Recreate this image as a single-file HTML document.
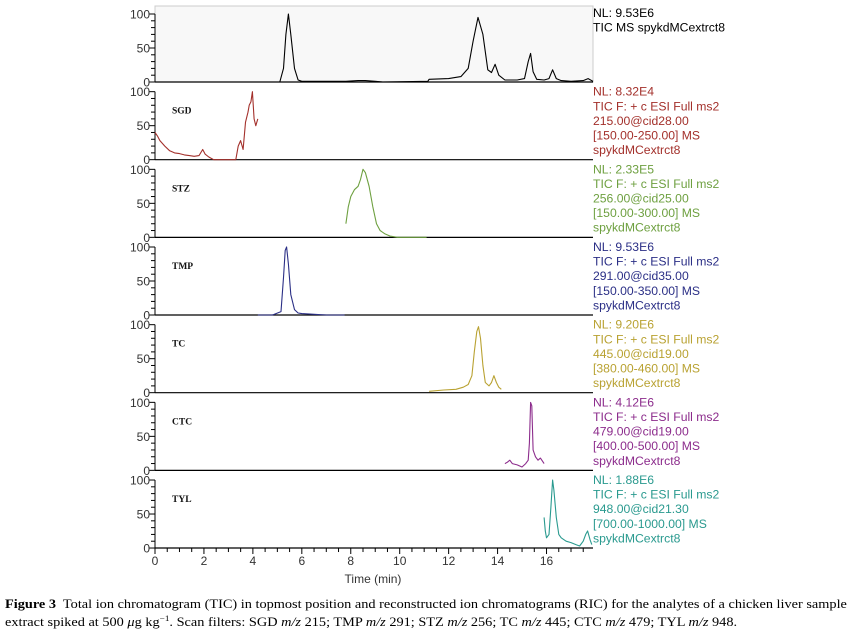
<!DOCTYPE html>
<html><head><meta charset="utf-8"><style>
body{margin:0;background:#fff;width:852px;height:630px;overflow:hidden}
svg text{font-family:"Liberation Sans",Arial,sans-serif}
.cap{position:absolute;left:5px;top:597px;font-family:"Liberation Serif",serif;font-size:12.5px;line-height:14.5px;color:#000;white-space:nowrap;transform:scaleX(1.145);transform-origin:0 0}
</style></head><body>
<svg id="chart" width="852" height="590" style="position:absolute;left:0;top:0"></svg>
<div class="cap"><b>Figure 3</b>&nbsp; Total ion chromatogram (TIC) in topmost position and reconstructed ion chromatograms (RIC) for the analytes of a chicken liver sample<br>extract spiked at 500 <i>μ</i>g kg<sup style="font-size:8px">−1</sup>. Scan filters: SGD <i>m/z</i> 215; TMP <i>m/z</i> 291; STZ <i>m/z</i> 256; TC <i>m/z</i> 445; CTC <i>m/z</i> 479; TYL <i>m/z</i> 948.</div>
<script>
const panelNames=["TIC","SGD","STZ","TMP","TC","CTC","TYL"];
const panelColors=["#000","#a3302b","#6ea040","#2b2f86","#b9a232","#8c2c8c","#2a9a8f"];
const ticT=[5.1,5.25,5.35,5.45,5.55,5.7,5.85,6.0,7.8,8.3,8.6,9.0,9.3,11.15,11.2,12.0,12.5,12.8,13.0,13.2,13.4,13.6,13.75,13.9,14.05,14.3,14.8,15.1,15.25,15.35,15.45,15.6,15.9,16.1,16.25,16.4,16.6,17.0,17.5,17.7,17.9];
const ticY=[0,20,70,100,70,20,3,1,1,2,2,1,0,1,4,5,8,20,60,95,70,18,14,26,10,3,3,5,30,42,15,4,3,5,18,5,2,1,2,5,1];
const sgdT=[0,0.1,0.2,0.4,0.6,0.8,1.0,1.2,1.4,1.6,1.8,1.95,2.05,2.2,2.4,2.6,3.0,3.3,3.4,3.5,3.6,3.65,3.7,3.8,3.85,3.92,3.98,4.05,4.12,4.2];
const sgdY=[40,35,28,20,13,10,9,7,6,5,6,15,8,4,0,0,0,0,20,28,15,35,55,70,80,85,100,60,50,60];
const stzT=[7.8,7.9,8.0,8.15,8.3,8.4,8.5,8.6,8.75,8.9,9.05,9.2,9.4,9.6,9.9,10.5,11.1];
const stzY=[20,45,60,70,75,85,100,95,75,45,20,10,5,2,0,0,0];
const tmpT=[4.2,4.8,5.15,5.25,5.32,5.38,5.45,5.55,5.7,5.85,6.0,6.5,7.0,7.75];
const tmpY=[0,0,5,55,95,100,75,30,8,3,2,1,0,0];
const tcT=[11.2,11.8,12.3,12.6,12.8,12.95,13.05,13.15,13.22,13.3,13.4,13.5,13.65,13.75,13.85,13.95,14.05,14.15];
const tcY=[2,4,5,8,12,25,60,90,97,80,40,15,10,15,25,15,8,5];
const ctcT=[14.3,14.4,14.5,14.6,14.8,15.0,15.15,15.25,15.3,15.35,15.4,15.45,15.55,15.65,15.75,15.9];
const ctcY=[10,12,15,10,8,5,10,15,40,100,95,30,20,15,18,10];
const tylT=[15.9,15.95,16.0,16.1,16.18,16.25,16.3,16.4,16.5,16.6,16.8,17.0,17.2,17.35,17.5,17.6,17.68,17.78,17.85];
const tylY=[45,25,15,20,60,100,85,45,20,15,10,8,5,3,10,20,25,12,5];
const seriesT=[ticT,sgdT,stzT,tmpT,tcT,ctcT,tylT];
const seriesY=[ticY,sgdY,stzY,tmpY,tcY,ctcY,tylY];
const xTicks=[0,2,4,6,8,10,12,14,16];
const yTicks=[0,50,100];
const infoLines=[
 ["NL: 9.53E6","TIC  MS spykdMCextrct8"],
 ["NL: 8.32E4","TIC F: + c ESI Full ms2","215.00@cid28.00","[150.00-250.00]  MS","spykdMCextrct8"],
 ["NL: 2.33E5","TIC F: + c ESI Full ms2","256.00@cid25.00","[150.00-300.00]  MS","spykdMCextrct8"],
 ["NL: 9.53E6","TIC F: + c ESI Full ms2","291.00@cid35.00","[150.00-350.00]  MS","spykdMCextrct8"],
 ["NL: 9.20E6","TIC F: + c ESI Full ms2","445.00@cid19.00","[380.00-460.00]  MS","spykdMCextrct8"],
 ["NL: 4.12E6","TIC F: + c ESI Full ms2","479.00@cid19.00","[400.00-500.00]  MS","spykdMCextrct8"],
 ["NL: 1.88E6","TIC F: + c ESI Full ms2","948.00@cid21.30","[700.00-1000.00]  MS","spykdMCextrct8"]];

const svg=document.getElementById('chart');
const NS="http://www.w3.org/2000/svg";
const X0=155,X1=593,PXPERMIN=24.47;
const xs=t=>X0+t*PXPERMIN;
const zeroY=i=>82+i*77.67;
const ys=(i,v)=>zeroY(i)-v*0.68;
function mk(tag,attrs,parent){const e=document.createElementNS(NS,tag);for(const k in attrs)e.setAttribute(k,attrs[k]);(parent||svg).appendChild(e);return e;}

const bg=mk('rect',{x:X0,y:6,width:X1-X0,height:76,fill:'#f8f8f8',stroke:'#ccc','stroke-width':1});



panelNames.forEach((nm,i)=>{
  const g=mk('g',{});
  
  
  const z=zeroY(i);
  mk('line',{x1:X0,y1:ys(i,100),x2:X0,y2:z,stroke:'#000','stroke-width':1},g);
  mk('line',{x1:X0,y1:z,x2:X1,y2:z,stroke:'#000','stroke-width':1.2},g);
  for(let v=0;v<=100;v+=10){
    const major=v%50===0;
    mk('line',{x1:X0-(major?6:4),y1:ys(i,v),x2:X0,y2:ys(i,v),stroke:'#000','stroke-width':1},g);
  }
  yTicks.forEach(v=>{
    const t=mk('text',{x:X0-5,y:ys(i,v)+4.5,'text-anchor':'end','font-size':12,fill:'#333'},g);
    t.textContent=v;
  });
  if(i>0){
    const lb=mk('text',{x:172,y:ys(i,100)+22,'font-size':9.5,'font-weight':'bold',fill:'#111'},g);
    lb.setAttribute('style','font-family:"Liberation Serif",serif');
    lb.textContent=nm;
  }
  const T=seriesT[i],Y=seriesY[i];
  let d='';
  T.forEach((t,k)=>{d+=(k?'L':'M')+xs(t).toFixed(1)+','+ys(i,Y[k]).toFixed(1);});
  const p=mk('path',{d:d,fill:'none',stroke:panelColors[i],'stroke-width':1.1,'stroke-linejoin':'round'},g);
  
  
  const info=mk('text',{x:593,y:(i===0?17:ys(i,100)+4),'font-size':12.2,fill:panelColors[i]},g);
  
  
  infoLines[i].forEach((s,k)=>{const ts=mk('tspan',{x:593,dy:k?14.6:0},info);ts.textContent=s;});
});
const xg=mk('g',{});


const zb=zeroY(6);
for(let t=0;t<=17.5;t+=0.5){
  const major=(t%2===0);
  mk('line',{x1:xs(t),y1:zb,x2:xs(t),y2:zb+(major?6:4),stroke:'#000','stroke-width':1},xg);
}
xTicks.forEach(v=>{const t=mk('text',{x:xs(v),y:zb+17,'text-anchor':'middle','font-size':12,fill:'#333'},xg);t.textContent=v;});
const xt=mk('text',{x:373,y:zb+35,'text-anchor':'middle','font-size':12,fill:'#333'},xg);


xt.textContent='Time (min)';
</script>
</body></html>
